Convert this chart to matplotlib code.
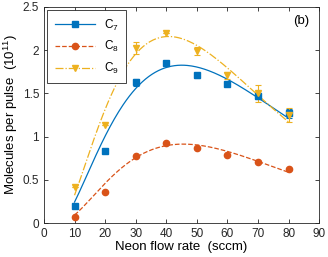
import matplotlib
matplotlib.use("Agg")
import matplotlib.pyplot as plt
import numpy as np

plt.rcParams['font.family'] = ['Liberation Sans', 'DejaVu Sans']
plt.rcParams['mathtext.fontset'] = 'custom'
plt.rcParams['mathtext.rm'] = 'Liberation Sans'
plt.rcParams['mathtext.it'] = 'Liberation Sans'

# data
flow = [10, 20, 30, 40, 50, 60, 70, 80]
c7 = [0.20, 0.83, 1.63, 1.85, 1.71, 1.61, 1.47, 1.27]
c7_err = [0, 0, 0.04, 0, 0.03, 0, 0.03, 0.05]
c8 = [0.07, 0.36, 0.78, 0.93, 0.87, 0.79, 0.71, 0.63]
c8_err = [0, 0, 0, 0, 0, 0, 0, 0]
c9 = [0.42, 1.13, 2.03, 2.20, 1.99, 1.71, 1.50, 1.25]
c9_err = [0, 0, 0.07, 0, 0.05, 0.04, 0.10, 0.08]

colors = ['#0072BD', '#D95319', '#EDB120']
markers = ['s', 'o', 'v']
styles = ['-', '--', '-.']
labels = ['C$_7$', 'C$_8$', 'C$_9$']


# fit y = a * (x-5)^b * exp(-c x); log least squares weighted by y
def hump_fit(x, y):
    x = np.asarray(x, float)
    y = np.asarray(y, float)
    A = np.column_stack([np.ones_like(x), np.log(x - 5), x])
    w = y ** 1.5
    coef, *_ = np.linalg.lstsq(A * w[:, None], np.log(y) * w, rcond=None)
    return lambda t: np.exp(coef[0] + coef[1] * np.log(t - 5) + coef[2] * t)


fig = plt.figure(figsize=(3.28, 2.57), dpi=100)
ax = fig.add_axes([0.134, 0.132, 0.839, 0.841])

xs = np.linspace(10, 80, 200)
series = [(c7, c7_err), (c8, c8_err), (c9, c9_err)]
for (y, e), col, m, ls, lab in zip(series, colors, markers, styles, labels):
    f = hump_fit(flow, y)
    ax.plot(xs, f(xs), ls, color=col, lw=0.9)
    ax.errorbar(flow, y, yerr=e, fmt=m, color=col, ms=4.5, elinewidth=0.8, capsize=2, capthick=0.8)
    ax.plot([], [], ls, color=col, marker=m, ms=4.5, lw=0.9, label=lab)

ax.set_xlim(0, 90)
ax.set_ylim(0, 2.5)
ax.set_xticks(range(0, 91, 10))
ax.set_yticks([0, 0.5, 1, 1.5, 2, 2.5])
ax.set_yticklabels(['0', '0.5', '1', '1.5', '2', '2.5'])
ax.tick_params(direction='in', top=True, right=True, labelsize=8.5, length=3, width=0.6, colors='#262626')
for s in ax.spines.values():
    s.set_linewidth(0.6)
    s.set_color('#262626')
ax.set_xlabel('Neon flow rate  (sccm)', fontsize=9.5, labelpad=1)
ax.set_ylabel('Molecules per pulse  (10$^{11}$)', fontsize=9.5, labelpad=2)
ax.text(0.965, 0.935, '(b)', transform=ax.transAxes, ha='right', va='center', fontsize=9.5)
leg = ax.legend(loc='upper left', fontsize=8.5, handlelength=3.4, fancybox=False,
                edgecolor='#262626', framealpha=1, borderaxespad=0.3, labelspacing=0.55,
                borderpad=0.6)
leg.get_frame().set_linewidth(0.6)

fig.savefig('out.png', dpi=100)
